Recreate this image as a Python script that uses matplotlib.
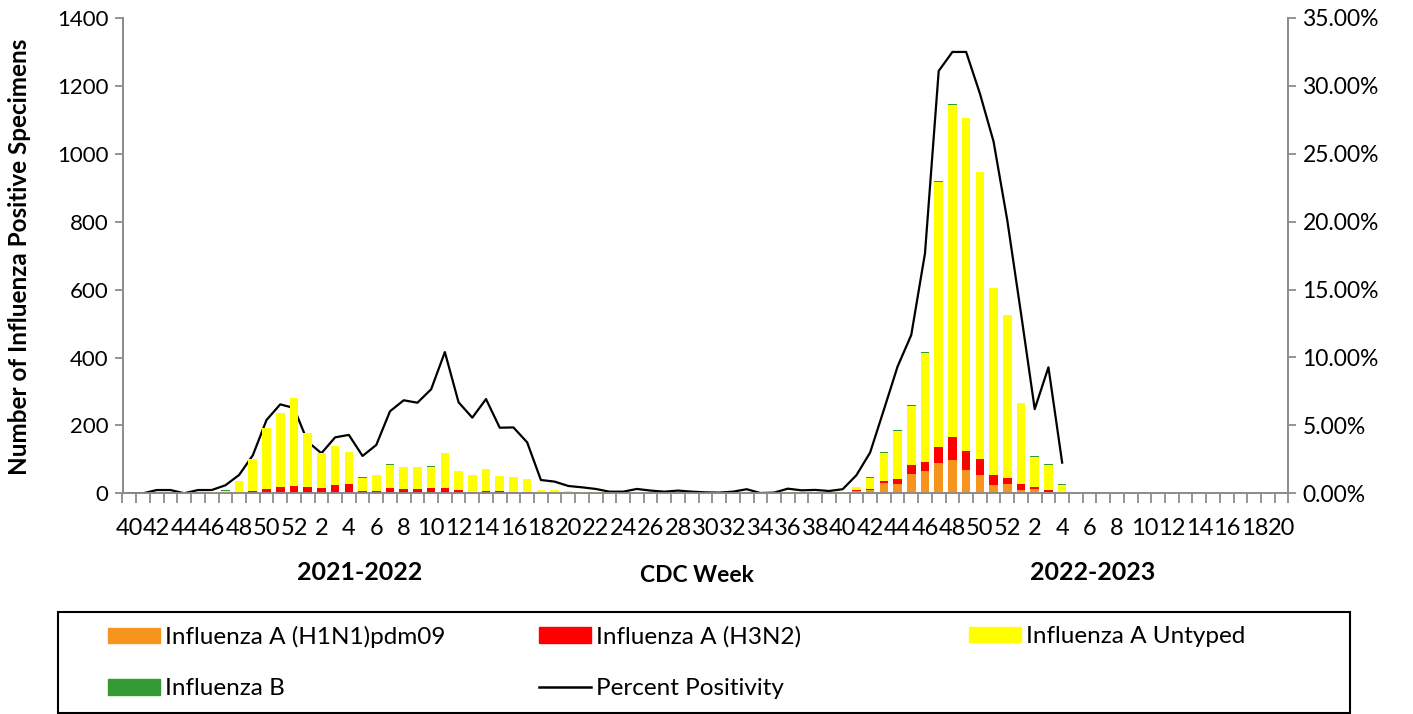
import matplotlib
matplotlib.use("Agg")
import matplotlib.pyplot as plt
import numpy as np
from matplotlib.patches import Patch, Rectangle
from matplotlib.lines import Line2D
from matplotlib.ticker import FuncFormatter, MultipleLocator

plt.rcParams['font.family'] = ['Lato', 'DejaVu Sans']

# CDC weeks: 2021-2022 season (wk 40 .. wk 39) then 2022-2023 season (wk 40 .. wk 20)
weeks = list(range(40, 53)) + list(range(1, 40)) + list(range(40, 53)) + list(range(1, 21))

# Influenza A (H1N1)pdm09
h1n1 = [0, 0, 0, 0, 0, 0, 0, 0, 0, 0, 0, 0, 0,
        0, 0, 0, 0, 0, 0, 0, 0, 0, 2, 0, 2, 1,
        0, 0, 2, 0, 0, 0, 0, 0, 0, 0, 0, 0, 0,
        0, 0, 0, 0, 0, 0, 0, 0, 0, 0, 0, 0, 0,
        0, 7, 9, 31, 27, 58, 67, 89, 98, 69, 54, 23, 27,
        10, 13, 5, 0, 0, 0, 0, 0, 0, 0, 0, 0, 0,
        0, 0, 0, 0, 0, 0, 0]
# Influenza A (H3N2)
h3n2 = [0, 0, 0, 0, 0, 0, 0, 0, 0, 7, 13, 19, 22,
        19, 17, 24, 27, 7, 7, 17, 14, 14, 14, 17, 8, 2,
        8, 8, 2, 4, 0, 0, 0, 0, 0, 0, 0, 0, 0,
        0, 0, 0, 0, 0, 0, 0, 0, 0, 0, 0, 0, 0,
        0, 3, 3, 5, 14, 25, 25, 48, 67, 57, 47, 31, 17,
        16, 7, 6, 0, 0, 0, 0, 0, 0, 0, 0, 0, 0,
        0, 0, 0, 0, 0, 0, 0]
# Influenza A Untyped
untyped = [0, 0, 0, 0, 0, 1, 3, 7, 36, 94, 178, 218, 259,
           158, 101, 115, 94, 39, 47, 65, 63, 63, 62, 101, 56, 51,
           64, 43, 43, 38, 10, 9, 6, 5, 4, 1, 1, 3, 1,
           1, 1, 1, 0, 1, 1, 2, 0, 1, 3, 1, 0, 1,
           4, 8, 33, 83, 142, 175, 322, 781, 980, 980, 845, 551, 481,
           241, 88, 72, 25, 0, 0, 0, 0, 0, 0, 0, 0, 0,
           0, 0, 0, 0, 0, 0, 0]
# Influenza B
flu_b = [0, 0, 0, 0, 0, 0, 0, 3, 0, 0, 2, 0, 0,
         0, 0, 0, 0, 3, 0, 3, 0, 0, 2, 0, 0, 0,
         0, 0, 0, 0, 0, 0, 0, 0, 0, 0, 0, 0, 0,
         0, 0, 0, 0, 0, 0, 0, 0, 0, 0, 0, 0, 2,
         0, 0, 2, 2, 2, 2, 2, 2, 3, 0, 0, 0, 0,
         0, 2, 2, 2, 0, 0, 0, 0, 0, 0, 0, 0, 0,
         0, 0, 0, 0, 0, 0, 0]
# Percent positivity (%)
pct = [0, 0, 0.24, 0.24, 0, 0.24, 0.24, 0.59, 1.35, 2.8, 5.4, 6.55, 6.28,
       3.8, 2.95, 4.12, 4.3, 2.75, 3.56, 6.04, 6.85, 6.67, 7.66, 10.4, 6.7, 5.57,
       6.94, 4.83, 4.85, 3.75, 0.98, 0.86, 0.54, 0.44, 0.32, 0.12, 0.12, 0.32, 0.2,
       0.12, 0.2, 0.12, 0.07, 0.05, 0.12, 0.3, 0.02, 0.05, 0.34, 0.22, 0.25, 0.17,
       0.3, 1.33, 3.0, 6.14, 9.33, 11.66, 17.67, 31.1, 32.5, 32.5, 29.45, 25.9, 20.1,
       13.25, 6.2, 9.28, 2.26] + [None] * 16

season_labels = ["2021-2022", "CDC Week", "2022-2023"]

W, H = 1413, 714
fig = plt.figure(figsize=(W / 100, H / 100), dpi=100)
ax = fig.add_axes([122.5 / W, 1 - 493.3 / H, (1288.5 - 122.5) / W, (493.3 - 18) / H])
ax2 = ax.twinx()

x = np.arange(len(weeks))
c_or, c_red, c_yel, c_grn = '#F7941D', '#FF0000', '#FFFF00', '#339933'
bw = 0.63
b1 = np.array(h1n1, float)
b2 = b1 + np.array(h3n2, float)
b3 = b2 + np.array(untyped, float)
ax.bar(x, h1n1, bw, color=c_or, zorder=2)
ax.bar(x, h3n2, bw, bottom=b1, color=c_red, zorder=2)
ax.bar(x, untyped, bw, bottom=b2, color=c_yel, zorder=2)
ax.bar(x, flu_b, bw, bottom=b3, color=c_grn, zorder=2)

pct_arr = np.array([np.nan if v is None else v for v in pct], float)
ax2.plot(x, pct_arr / 100.0, color='black', lw=1.6, zorder=3)

ax.set_xlim(-0.5, len(weeks) - 0.5)
ax.set_ylim(0, 1400)
ax2.set_ylim(0, 0.35)
ax.yaxis.set_major_locator(MultipleLocator(200))
ax2.yaxis.set_major_locator(MultipleLocator(0.05))
ax2.yaxis.set_major_formatter(FuncFormatter(lambda v, p: f"{v * 100:.2f}%"))

gray = '#8C8C8C'
for a in (ax, ax2):
    a.spines['top'].set_visible(False)
    for s in ('left', 'right', 'bottom'):
        a.spines[s].set_color(gray)
        a.spines[s].set_linewidth(1.3)
ax.set_zorder(ax2.get_zorder() + 1)
ax.patch.set_visible(False)

# x ticks: marks at category boundaries, labels at every other category centre
ax.set_xticks(np.arange(len(weeks) + 1) - 0.5)
ax.set_xticklabels([])
ax.set_xticks(x[::2], minor=True)
ax.set_xticklabels([str(w) for w in weeks[::2]], minor=True, fontsize=17)
ax.tick_params(axis='x', which='major', length=7, width=1.3, color=gray, direction='out')
ax.tick_params(axis='x', which='minor', length=0, pad=18)
ax.tick_params(axis='y', length=6, width=1.3, color=gray, labelsize=16, pad=4)
ax2.tick_params(axis='y', length=6, width=1.3, color=gray, labelsize=16.5, pad=4)

fig.text(20 / W, 1 - 257 / H, "Number of Influenza Positive Specimens", rotation=90,
         ha='center', va='center', fontsize=17.5, fontweight='bold')
fig.text(360 / W, 1 - 572 / H, season_labels[0], ha='center', va='center', fontsize=18, fontweight='bold')
fig.text(697 / W, 1 - 575 / H, season_labels[1], ha='center', va='center', fontsize=16.5, fontweight='bold')
fig.text(1093 / W, 1 - 572 / H, season_labels[2], ha='center', va='center', fontsize=18, fontweight='bold')

# legend frame
fig.patches.append(Rectangle((58 / W, 1 - 713 / H), (1350 - 58) / W, (713 - 612) / H,
                             transform=fig.transFigure, fill=False, edgecolor='black', lw=1.5))

def leg(handles, labels, xpx):
    lg = fig.legend(handles, labels, loc='upper left', bbox_to_anchor=(xpx / W, 1 - 626 / H),
                    frameon=False, fontsize=17.5, handlelength=2.15, handleheight=0.6,
                    handletextpad=0.2, labelspacing=1.25, borderaxespad=0, borderpad=0)
    return lg

leg([Patch(color=c_or), Patch(color=c_grn)], ["Influenza A (H1N1)pdm09", "Influenza B"], 108)
leg([Patch(color=c_red), Line2D([0], [0], color='black', lw=1.8)],
    ["Influenza A (H3N2)", "Percent Positivity"], 539)
leg([Patch(color=c_yel)], ["Influenza A Untyped"], 969)

fig.savefig("out.png", dpi=100)
